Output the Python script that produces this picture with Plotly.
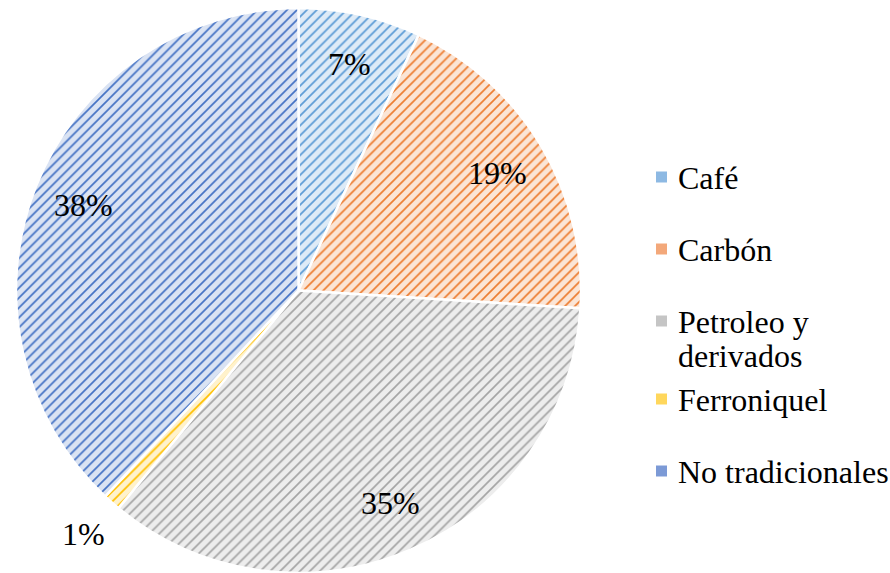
import math
import textwrap
import plotly.graph_objects as go

# Export composition (%)
categories = ["Café", "Carbón", "Petroleo y derivados", "Ferroniquel", "No tradicionales"]
shares = [7, 19, 35, 1, 38]

# Slice colours: hatch line colour and light background tint
line_colors = ["#5B9BD5", "#ED7D31", "#A5A5A5", "#FFC000", "#4472C4"]
tint_colors = ["#DEEBF7", "#FBE5D6", "#EDEDED", "#FFF2CC", "#DAE3F3"]
legend_colors = ["#8DB9E3", "#F3A87A", "#C5C5C5", "#FFD75C", "#7C9AD6"]

W, H = 890, 573
M_TOP = 8
PLOT_H = H - M_TOP
FONT = "Liberation Serif"
FS = 32

# pie geometry in pixels
pie_left = 16
radius = PLOT_H / 2
cx = pie_left + radius
cy = M_TOP + radius


def to_paper(px, py):
    return px / W, 1 - (py - M_TOP) / PLOT_H


fig = go.Figure(
    go.Pie(
        labels=categories,
        values=shares,
        sort=False,
        direction="clockwise",
        rotation=0,
        textinfo="none",
        hoverinfo="label+percent",
        showlegend=False,
        domain=dict(x=[pie_left / W, (pie_left + 2 * radius) / W], y=[0, 1]),
        marker=dict(
            colors=line_colors,
            line=dict(color="white", width=2.5),
            pattern=dict(
                shape="/",
                fillmode="replace",
                bgcolor=tint_colors,
                fgcolor=line_colors,
                size=7,
                solidity=0.24,
            ),
        ),
    )
)

annotations = []
shapes = []

# percentage labels: inside near the rim, tiny slices outside
total = sum(shares)
cum = 0.0
for cat, v in zip(categories, shares):
    mid = (cum + v / 2) / total * 2 * math.pi
    cum += v
    f = 0.82 if v / total >= 0.02 else 1.15
    px = cx + f * radius * math.sin(mid)
    py = cy - f * radius * math.cos(mid)
    x, y = to_paper(px, py)
    annotations.append(dict(
        x=x, y=y, xref="paper", yref="paper", showarrow=False,
        text=f"{round(v / total * 100)}%",
        font=dict(family=FONT, size=FS, color="black"),
        xanchor="center", yanchor="middle",
    ))

# legend on the right
row_y = [178, 250, 322, 400, 472]
line_gap = 34
sq = 11
mark_x = 656
text_x = 676
for cat, col, ry in zip(categories, legend_colors, row_y):
    x0, y0 = to_paper(mark_x, ry - sq / 2 - 1)
    x1, y1 = to_paper(mark_x + sq, ry + sq / 2 - 1)
    shapes.append(dict(type="rect", xref="paper", yref="paper",
                       x0=x0, x1=x1, y0=y1, y1=y0,
                       fillcolor=col, line=dict(width=0)))
    for k, line in enumerate(textwrap.wrap(cat, 16)):
        tx, ty = to_paper(text_x, ry + k * line_gap)
        annotations.append(dict(
            x=tx, y=ty, xref="paper", yref="paper", showarrow=False,
            text=line, font=dict(family=FONT, size=FS, color="black"),
            xanchor="left", yanchor="middle",
        ))

fig.update_layout(
    width=W, height=H,
    margin=dict(l=0, r=0, t=M_TOP, b=0),
    paper_bgcolor="white",
    plot_bgcolor="white",
    font=dict(family=FONT),
    annotations=annotations,
    shapes=shapes,
)

fig.write_html("out.html")
